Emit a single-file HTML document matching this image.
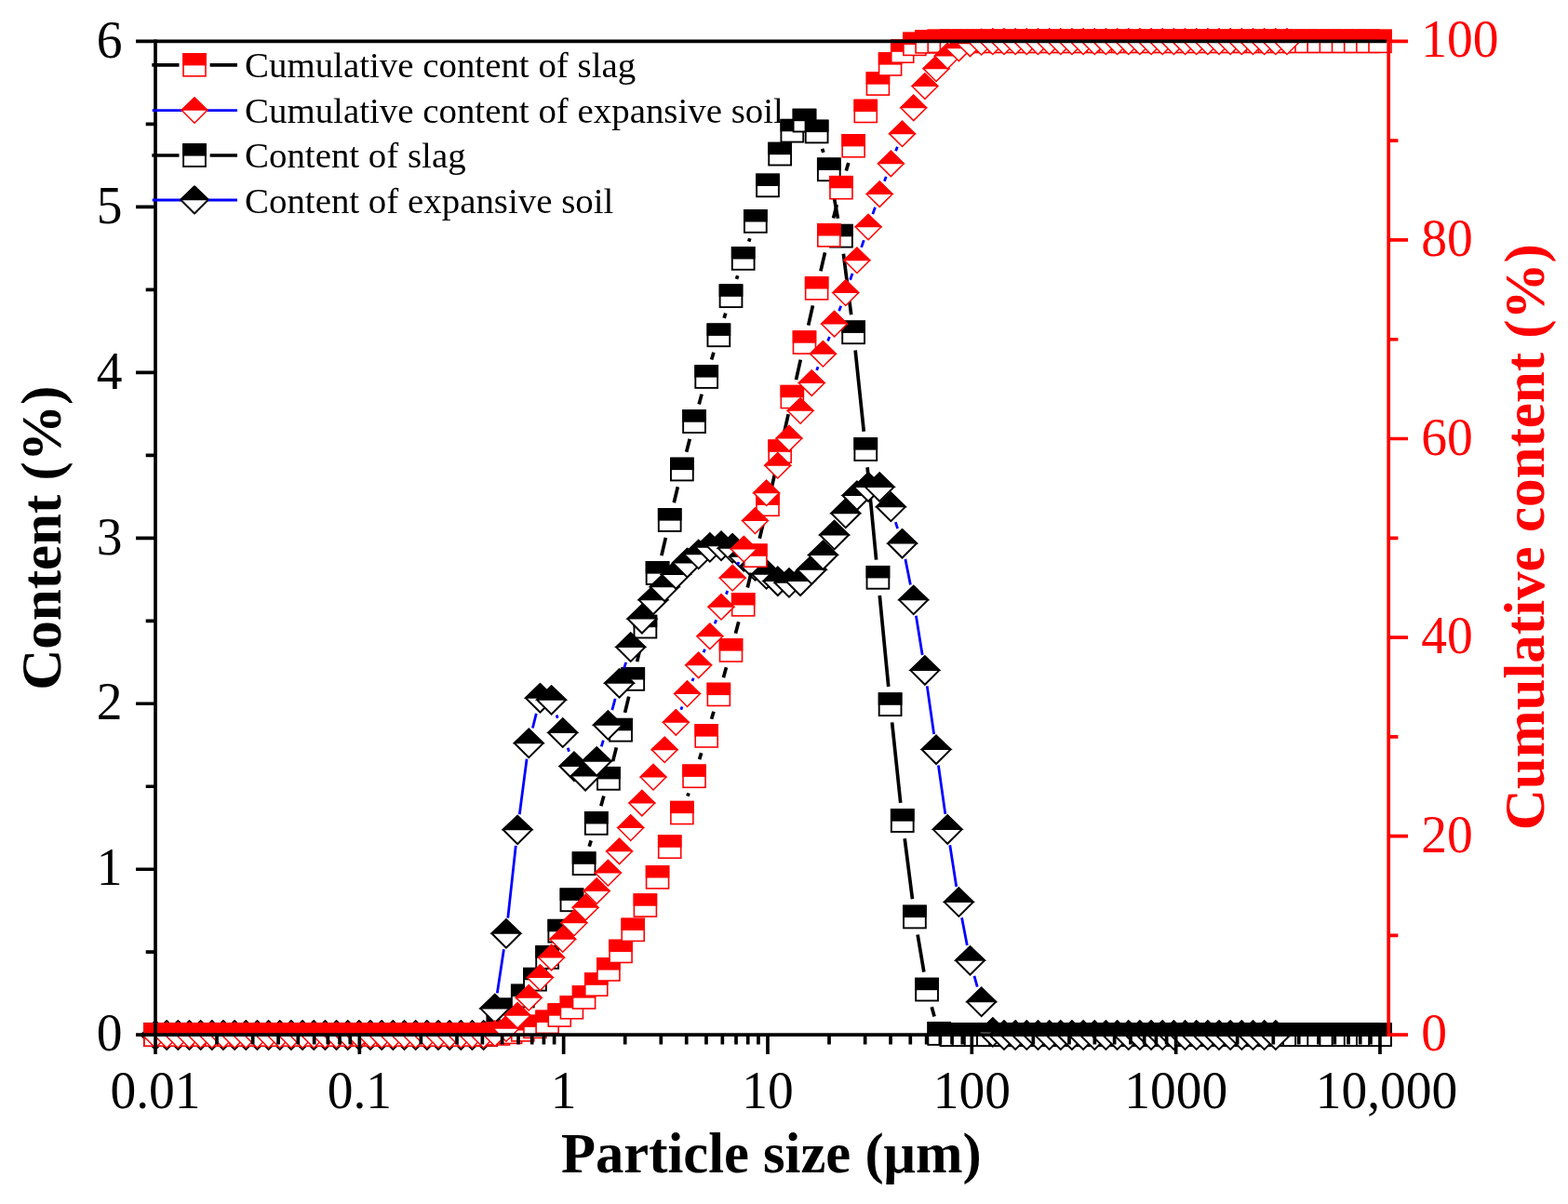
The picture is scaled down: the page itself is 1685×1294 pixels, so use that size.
<!DOCTYPE html>
<html lang="en">
<head>
<meta charset="utf-8">
<title>Particle size distribution</title>
<style>
html,body{margin:0;padding:0;background:#fff;}
body{width:1685px;height:1294px;overflow:hidden;}
svg{display:block;}
</style>
</head>
<body>
<svg width="1685" height="1294" viewBox="0 0 1685 1294" role="img" aria-label="Particle size distribution of slag and expansive soil">
<defs>
<g id="sb"><rect x="-11.9" y="-11.9" width="23.8" height="23.8" fill="#fff" stroke="#000" stroke-width="1.9"/><rect x="-12.85" y="-12.85" width="25.7" height="13.45" fill="#000"/></g>
<g id="sr"><rect x="-12" y="-12" width="24" height="24" fill="#fff" stroke="#f00" stroke-width="1.6"/><rect x="-12.8" y="-12.8" width="25.6" height="13.4" fill="#f00"/></g>
<g id="db" stroke="#000" stroke-width="2.0"><path d="M-15.2 0L0 -15.2L15.2 0L0 15.2Z" fill="#fff"/><path d="M-15.2 -0.7L0 -15.2L15.2 -0.7Z" fill="#000"/></g>
<g id="dr" stroke="#f00" stroke-width="1.5"><path d="M-13.65 0L0 -13.65L13.65 0L0 13.65Z" fill="#fff"/><path d="M-13.65 -0.5L0 -13.65L13.65 -0.5Z" fill="#f00"/></g>
<g id="ldb" stroke="#000" stroke-width="2.0" stroke-linejoin="round"><path d="M-14.5 0L0 -14.5L14.5 0L0 14.5Z" fill="#fff"/><path d="M-14.5 -0.7L0 -14.5L14.5 -0.7Z" fill="#000"/></g>
<g id="ldr" stroke="#f00" stroke-width="1.5"><path d="M-13.65 0L0 -13.65L13.65 0L0 13.65Z" fill="#fff"/><path d="M-13.65 -0.5L0 -13.65L13.65 -0.5Z" fill="#f00"/></g>
</defs>
<rect width="1685" height="1294" fill="#fff"/>
<g id="s1">
<path d="M633.21 909.73L635.15 903.37M645.85 866.28L648.83 855.42M658.65 818.09L662.35 803.41M671.59 765.93L675.73 748.67M684.63 711.11L689.01 692.39M697.7 654.78L702.26 634.82M710.9 597.19L715.38 577.81M724.25 540.24L728.35 523.26M737.67 485.8L741.25 471.8M751.13 434.48L754.11 423.62M764.65 386.49L766.91 378.81M778.12 341.88L779.76 336.62M791.51 299.85L792.69 296.25M804.71 259.57L805.81 256.23M883.56 159.87L884.88 163.93M894.3 201.28L900.46 234.72M906.39 272.85L914.69 338.15M919.13 376.5L928.27 463.8M932.11 502.21L941.61 601.59M945.29 640.01L954.75 737.99M958.62 776.39L967.74 862.91M972.2 901.25L980.48 966.35M986.13 1004.53L992.87 1044.57M1001.24 1082.2L1004.08 1092.4" fill="none" stroke="#000" stroke-width="3.7"/>
<use href="#sb" x="167" y="1112.2"/>
<use href="#sb" x="180.16" y="1112.2"/>
<use href="#sb" x="193.32" y="1112.2"/>
<use href="#sb" x="206.48" y="1112.2"/>
<use href="#sb" x="219.64" y="1112.2"/>
<use href="#sb" x="232.8" y="1112.2"/>
<use href="#sb" x="245.96" y="1112.2"/>
<use href="#sb" x="259.12" y="1112.2"/>
<use href="#sb" x="272.28" y="1112.2"/>
<use href="#sb" x="285.44" y="1112.2"/>
<use href="#sb" x="298.6" y="1112.2"/>
<use href="#sb" x="311.76" y="1112.2"/>
<use href="#sb" x="324.92" y="1112.2"/>
<use href="#sb" x="338.08" y="1112.2"/>
<use href="#sb" x="351.24" y="1112.2"/>
<use href="#sb" x="364.4" y="1112.2"/>
<use href="#sb" x="377.56" y="1112.2"/>
<use href="#sb" x="390.72" y="1112.2"/>
<use href="#sb" x="403.88" y="1112.2"/>
<use href="#sb" x="417.04" y="1112.2"/>
<use href="#sb" x="430.2" y="1112.2"/>
<use href="#sb" x="443.36" y="1112.2"/>
<use href="#sb" x="456.52" y="1112.2"/>
<use href="#sb" x="469.68" y="1112.2"/>
<use href="#sb" x="482.84" y="1112.2"/>
<use href="#sb" x="496" y="1112.2"/>
<use href="#sb" x="509.16" y="1112.2"/>
<use href="#sb" x="522.32" y="1112.2"/>
<use href="#sb" x="535.48" y="1098"/>
<use href="#sb" x="548.64" y="1085.4"/>
<use href="#sb" x="561.8" y="1070.5"/>
<use href="#sb" x="574.96" y="1052.7"/>
<use href="#sb" x="588.12" y="1029"/>
<use href="#sb" x="601.28" y="1000.7"/>
<use href="#sb" x="614.44" y="967.3"/>
<use href="#sb" x="627.6" y="928.2"/>
<use href="#sb" x="640.76" y="884.9"/>
<use href="#sb" x="653.92" y="836.8"/>
<use href="#sb" x="667.08" y="784.7"/>
<use href="#sb" x="680.24" y="729.9"/>
<use href="#sb" x="693.4" y="673.6"/>
<use href="#sb" x="706.56" y="616"/>
<use href="#sb" x="719.72" y="559"/>
<use href="#sb" x="732.88" y="504.5"/>
<use href="#sb" x="746.04" y="453.1"/>
<use href="#sb" x="759.2" y="405"/>
<use href="#sb" x="772.36" y="360.3"/>
<use href="#sb" x="785.52" y="318.2"/>
<use href="#sb" x="798.68" y="277.9"/>
<use href="#sb" x="811.84" y="237.9"/>
<use href="#sb" x="825" y="199.4"/>
<use href="#sb" x="838.16" y="165.6"/>
<use href="#sb" x="851.32" y="140.7"/>
<use href="#sb" x="864.48" y="129.6"/>
<use href="#sb" x="877.64" y="141.5"/>
<use href="#sb" x="890.8" y="182.3"/>
<use href="#sb" x="903.96" y="253.7"/>
<use href="#sb" x="917.12" y="357.3"/>
<use href="#sb" x="930.28" y="483"/>
<use href="#sb" x="943.44" y="620.8"/>
<use href="#sb" x="956.6" y="757.2"/>
<use href="#sb" x="969.76" y="882.1"/>
<use href="#sb" x="982.92" y="985.5"/>
<use href="#sb" x="996.08" y="1063.6"/>
<use href="#sb" x="1009.24" y="1111"/>
<use href="#sb" x="1022.4" y="1112.2"/>
<use href="#sb" x="1035.56" y="1112.2"/>
<use href="#sb" x="1048.72" y="1112.2"/>
<use href="#sb" x="1061.88" y="1112.2"/>
<use href="#sb" x="1075.04" y="1112.2"/>
<use href="#sb" x="1088.2" y="1112.2"/>
<use href="#sb" x="1101.36" y="1112.2"/>
<use href="#sb" x="1114.52" y="1112.2"/>
<use href="#sb" x="1127.68" y="1112.2"/>
<use href="#sb" x="1140.84" y="1112.2"/>
<use href="#sb" x="1154" y="1112.2"/>
<use href="#sb" x="1167.16" y="1112.2"/>
<use href="#sb" x="1180.32" y="1112.2"/>
<use href="#sb" x="1193.48" y="1112.2"/>
<use href="#sb" x="1206.64" y="1112.2"/>
<use href="#sb" x="1219.8" y="1112.2"/>
<use href="#sb" x="1232.96" y="1112.2"/>
<use href="#sb" x="1246.12" y="1112.2"/>
<use href="#sb" x="1259.28" y="1112.2"/>
<use href="#sb" x="1272.44" y="1112.2"/>
<use href="#sb" x="1285.6" y="1112.2"/>
<use href="#sb" x="1298.76" y="1112.2"/>
<use href="#sb" x="1311.92" y="1112.2"/>
<use href="#sb" x="1325.08" y="1112.2"/>
<use href="#sb" x="1338.24" y="1112.2"/>
<use href="#sb" x="1351.4" y="1112.2"/>
<use href="#sb" x="1364.56" y="1112.2"/>
<use href="#sb" x="1377.72" y="1112.2"/>
<use href="#sb" x="1390.88" y="1112.2"/>
<use href="#sb" x="1404.04" y="1112.2"/>
<use href="#sb" x="1417.2" y="1112.2"/>
<use href="#sb" x="1430.36" y="1112.2"/>
<use href="#sb" x="1443.52" y="1112.2"/>
<use href="#sb" x="1456.68" y="1112.2"/>
<use href="#sb" x="1469.84" y="1112.2"/>
<use href="#sb" x="1483" y="1112.2"/>
</g>
<g id="s2">
<path d="M534.32 1067.39L541.44 1020.21M545.79 986.7L554.29 908.8M558.31 875.24L566.09 815.66M572.39 782.51L576.33 766.79M598.12 768.47L599.24 771.73M610.15 803.72L611.53 807.78M646.27 802.37L648.37 795.63M657.81 763.19L661.15 750.81M670.61 718.37L672.67 711.83M962.38 561.05L964.58 568.15M972.88 600.87L978.4 628.43M984.4 661.69L991.2 703.91M996.27 737.33L1003.65 789.07M1008.41 822.53L1015.83 874.87M1020.8 908.3L1027.76 953M1033.57 986.29L1039.31 1015.91M1046.98 1048.8L1050.22 1060.6" fill="none" stroke="#0000ff" stroke-width="2.8"/>
<use href="#db" x="167" y="1112.7"/>
<use href="#db" x="179.16" y="1112.7"/>
<use href="#db" x="191.32" y="1112.7"/>
<use href="#db" x="203.48" y="1112.7"/>
<use href="#db" x="215.64" y="1112.7"/>
<use href="#db" x="227.8" y="1112.7"/>
<use href="#db" x="239.96" y="1112.7"/>
<use href="#db" x="252.12" y="1112.7"/>
<use href="#db" x="264.28" y="1112.7"/>
<use href="#db" x="276.44" y="1112.7"/>
<use href="#db" x="288.6" y="1112.7"/>
<use href="#db" x="300.76" y="1112.7"/>
<use href="#db" x="312.92" y="1112.7"/>
<use href="#db" x="325.08" y="1112.7"/>
<use href="#db" x="337.24" y="1112.7"/>
<use href="#db" x="349.4" y="1112.7"/>
<use href="#db" x="361.56" y="1112.7"/>
<use href="#db" x="373.72" y="1112.7"/>
<use href="#db" x="385.88" y="1112.7"/>
<use href="#db" x="398.04" y="1112.7"/>
<use href="#db" x="410.2" y="1112.7"/>
<use href="#db" x="422.36" y="1112.7"/>
<use href="#db" x="434.52" y="1112.7"/>
<use href="#db" x="446.68" y="1112.7"/>
<use href="#db" x="458.84" y="1112.7"/>
<use href="#db" x="471" y="1112.7"/>
<use href="#db" x="483.16" y="1112.7"/>
<use href="#db" x="495.32" y="1112.7"/>
<use href="#db" x="507.48" y="1112.7"/>
<use href="#db" x="519.64" y="1112.7"/>
<use href="#db" x="531.8" y="1084.1"/>
<use href="#db" x="543.96" y="1003.5"/>
<use href="#db" x="556.12" y="892"/>
<use href="#db" x="568.28" y="798.9"/>
<use href="#db" x="580.44" y="750.4"/>
<use href="#db" x="592.6" y="752.5"/>
<use href="#db" x="604.76" y="787.7"/>
<use href="#db" x="616.92" y="823.8"/>
<use href="#db" x="629.08" y="834.3"/>
<use href="#db" x="641.24" y="818.5"/>
<use href="#db" x="653.4" y="779.5"/>
<use href="#db" x="665.56" y="734.5"/>
<use href="#db" x="677.72" y="695.7"/>
<use href="#db" x="689.88" y="665.3"/>
<use href="#db" x="702.04" y="645"/>
<use href="#db" x="714.2" y="630.9"/>
<use href="#db" x="726.36" y="617.6"/>
<use href="#db" x="738.52" y="605.2"/>
<use href="#db" x="750.68" y="596"/>
<use href="#db" x="762.84" y="588.5"/>
<use href="#db" x="775" y="586.9"/>
<use href="#db" x="787.16" y="589.4"/>
<use href="#db" x="799.32" y="598.5"/>
<use href="#db" x="811.48" y="608.5"/>
<use href="#db" x="823.64" y="617.4"/>
<use href="#db" x="835.8" y="624.8"/>
<use href="#db" x="847.96" y="626.5"/>
<use href="#db" x="860.12" y="624.8"/>
<use href="#db" x="872.28" y="612.5"/>
<use href="#db" x="884.44" y="596.8"/>
<use href="#db" x="896.6" y="575.2"/>
<use href="#db" x="908.76" y="551.9"/>
<use href="#db" x="920.92" y="532.8"/>
<use href="#db" x="933.08" y="523.6"/>
<use href="#db" x="945.24" y="523.6"/>
<use href="#db" x="957.4" y="544.9"/>
<use href="#db" x="969.56" y="584.3"/>
<use href="#db" x="981.72" y="645"/>
<use href="#db" x="993.88" y="720.6"/>
<use href="#db" x="1006.04" y="805.8"/>
<use href="#db" x="1018.2" y="891.6"/>
<use href="#db" x="1030.36" y="969.7"/>
<use href="#db" x="1042.52" y="1032.5"/>
<use href="#db" x="1054.68" y="1076.9"/>
<use href="#db" x="1066.84" y="1109.5"/>
<use href="#db" x="1079" y="1112.7"/>
<use href="#db" x="1091.16" y="1112.7"/>
<use href="#db" x="1103.32" y="1112.7"/>
<use href="#db" x="1115.48" y="1112.7"/>
<use href="#db" x="1127.64" y="1112.7"/>
<use href="#db" x="1139.8" y="1112.7"/>
<use href="#db" x="1151.96" y="1112.7"/>
<use href="#db" x="1164.12" y="1112.7"/>
<use href="#db" x="1176.28" y="1112.7"/>
<use href="#db" x="1188.44" y="1112.7"/>
<use href="#db" x="1200.6" y="1112.7"/>
<use href="#db" x="1212.76" y="1112.7"/>
<use href="#db" x="1224.92" y="1112.7"/>
<use href="#db" x="1237.08" y="1112.7"/>
<use href="#db" x="1249.24" y="1112.7"/>
<use href="#db" x="1261.4" y="1112.7"/>
<use href="#db" x="1273.56" y="1112.7"/>
<use href="#db" x="1285.72" y="1112.7"/>
<use href="#db" x="1297.88" y="1112.7"/>
<use href="#db" x="1310.04" y="1112.7"/>
<use href="#db" x="1322.2" y="1112.7"/>
<use href="#db" x="1334.36" y="1112.7"/>
<use href="#db" x="1346.52" y="1112.7"/>
<use href="#db" x="1358.68" y="1112.7"/>
<use href="#db" x="1370.84" y="1112.7"/>
</g>
<g id="s3">
<path d="M738.91 855.58L740.01 852.32M751.57 816.12L753.67 809.18M764.59 772.78L766.97 764.72M777.43 728.19L780.45 717.31M790.44 680.65L793.76 668.25M803.28 631.47L807.24 615.63M816.27 578.72L820.57 560.78M829.27 523.79L833.89 503.71M842.32 466.66L847.16 445.14M855.49 408.06L860.31 386.64M868.67 349.57L873.45 328.43M881.91 291.39L886.53 271.41M895.53 234.5L899.23 220.1M909.3 183.47L911.78 175.03" fill="none" stroke="#000" stroke-width="3.7"/>
<use href="#sr" x="167" y="1112.2"/>
<use href="#sr" x="180.16" y="1112.2"/>
<use href="#sr" x="193.32" y="1112.2"/>
<use href="#sr" x="206.48" y="1112.2"/>
<use href="#sr" x="219.64" y="1112.2"/>
<use href="#sr" x="232.8" y="1112.2"/>
<use href="#sr" x="245.96" y="1112.2"/>
<use href="#sr" x="259.12" y="1112.2"/>
<use href="#sr" x="272.28" y="1112.2"/>
<use href="#sr" x="285.44" y="1112.2"/>
<use href="#sr" x="298.6" y="1112.2"/>
<use href="#sr" x="311.76" y="1112.2"/>
<use href="#sr" x="324.92" y="1112.2"/>
<use href="#sr" x="338.08" y="1112.2"/>
<use href="#sr" x="351.24" y="1112.2"/>
<use href="#sr" x="364.4" y="1112.2"/>
<use href="#sr" x="377.56" y="1112.2"/>
<use href="#sr" x="390.72" y="1112.2"/>
<use href="#sr" x="403.88" y="1112.2"/>
<use href="#sr" x="417.04" y="1112.2"/>
<use href="#sr" x="430.2" y="1112.2"/>
<use href="#sr" x="443.36" y="1112.2"/>
<use href="#sr" x="456.52" y="1112.2"/>
<use href="#sr" x="469.68" y="1112.2"/>
<use href="#sr" x="482.84" y="1112.2"/>
<use href="#sr" x="496" y="1112.2"/>
<use href="#sr" x="509.16" y="1112.2"/>
<use href="#sr" x="522.32" y="1111.9"/>
<use href="#sr" x="535.48" y="1111"/>
<use href="#sr" x="548.64" y="1109.4"/>
<use href="#sr" x="561.8" y="1106.9"/>
<use href="#sr" x="574.96" y="1103.4"/>
<use href="#sr" x="588.12" y="1098.4"/>
<use href="#sr" x="601.28" y="1091.1"/>
<use href="#sr" x="614.44" y="1082.8"/>
<use href="#sr" x="627.6" y="1072"/>
<use href="#sr" x="640.76" y="1058.2"/>
<use href="#sr" x="653.92" y="1042"/>
<use href="#sr" x="667.08" y="1022.5"/>
<use href="#sr" x="680.24" y="999.4"/>
<use href="#sr" x="693.4" y="973.1"/>
<use href="#sr" x="706.56" y="942.9"/>
<use href="#sr" x="719.72" y="910.2"/>
<use href="#sr" x="732.88" y="873.6"/>
<use href="#sr" x="746.04" y="834.3"/>
<use href="#sr" x="759.2" y="791"/>
<use href="#sr" x="772.36" y="746.5"/>
<use href="#sr" x="785.52" y="699"/>
<use href="#sr" x="798.68" y="649.9"/>
<use href="#sr" x="811.84" y="597.2"/>
<use href="#sr" x="825" y="542.3"/>
<use href="#sr" x="838.16" y="485.2"/>
<use href="#sr" x="851.32" y="426.6"/>
<use href="#sr" x="864.48" y="368.1"/>
<use href="#sr" x="877.64" y="309.9"/>
<use href="#sr" x="890.8" y="252.9"/>
<use href="#sr" x="903.96" y="201.7"/>
<use href="#sr" x="917.12" y="156.8"/>
<use href="#sr" x="930.28" y="119.5"/>
<use href="#sr" x="943.44" y="90.1"/>
<use href="#sr" x="956.6" y="69"/>
<use href="#sr" x="969.76" y="55.2"/>
<use href="#sr" x="982.92" y="47.4"/>
<use href="#sr" x="996.08" y="44.9"/>
<use href="#sr" x="1009.24" y="44.4"/>
<use href="#sr" x="1022.4" y="44.4"/>
<use href="#sr" x="1035.56" y="44.4"/>
<use href="#sr" x="1048.72" y="44.4"/>
<use href="#sr" x="1061.88" y="44.4"/>
<use href="#sr" x="1075.04" y="44.4"/>
<use href="#sr" x="1088.2" y="44.4"/>
<use href="#sr" x="1101.36" y="44.4"/>
<use href="#sr" x="1114.52" y="44.4"/>
<use href="#sr" x="1127.68" y="44.4"/>
<use href="#sr" x="1140.84" y="44.4"/>
<use href="#sr" x="1154" y="44.4"/>
<use href="#sr" x="1167.16" y="44.4"/>
<use href="#sr" x="1180.32" y="44.4"/>
<use href="#sr" x="1193.48" y="44.4"/>
<use href="#sr" x="1206.64" y="44.4"/>
<use href="#sr" x="1219.8" y="44.4"/>
<use href="#sr" x="1232.96" y="44.4"/>
<use href="#sr" x="1246.12" y="44.4"/>
<use href="#sr" x="1259.28" y="44.4"/>
<use href="#sr" x="1272.44" y="44.4"/>
<use href="#sr" x="1285.6" y="44.4"/>
<use href="#sr" x="1298.76" y="44.4"/>
<use href="#sr" x="1311.92" y="44.4"/>
<use href="#sr" x="1325.08" y="44.4"/>
<use href="#sr" x="1338.24" y="44.4"/>
<use href="#sr" x="1351.4" y="44.4"/>
<use href="#sr" x="1364.56" y="44.4"/>
<use href="#sr" x="1377.72" y="44.4"/>
<use href="#sr" x="1390.88" y="44.4"/>
<use href="#sr" x="1404.04" y="44.4"/>
<use href="#sr" x="1417.2" y="44.4"/>
<use href="#sr" x="1430.36" y="44.4"/>
<use href="#sr" x="1443.52" y="44.4"/>
<use href="#sr" x="1456.68" y="44.4"/>
<use href="#sr" x="1469.84" y="44.4"/>
<use href="#sr" x="1483" y="44.4"/>
</g>
<g id="s4">
<path d="M731.81 762.74L733.07 759.56M743.95 732.03L745.25 728.77M756.08 701.22L757.44 697.78M768.16 670.19L769.68 666.21M780.39 638.62L781.77 635.08M792.56 607.52L793.92 604.08M877.64 397.9L879.08 394.2M889.67 366.55L891.37 362.05M901.66 334.29L903.7 328.71M913.63 300.82L916.05 293.88M925.68 265.89L928.32 258.11M937.89 230.1L940.43 222.7M950.4 194.83L952.24 189.87M962.64 162.16L964.32 157.74" fill="none" stroke="#0000ff" stroke-width="2.8"/>
<use href="#dr" x="167" y="1112.6"/>
<use href="#dr" x="179.16" y="1112.6"/>
<use href="#dr" x="191.32" y="1112.6"/>
<use href="#dr" x="203.48" y="1112.6"/>
<use href="#dr" x="215.64" y="1112.6"/>
<use href="#dr" x="227.8" y="1112.6"/>
<use href="#dr" x="239.96" y="1112.6"/>
<use href="#dr" x="252.12" y="1112.6"/>
<use href="#dr" x="264.28" y="1112.6"/>
<use href="#dr" x="276.44" y="1112.6"/>
<use href="#dr" x="288.6" y="1112.6"/>
<use href="#dr" x="300.76" y="1112.6"/>
<use href="#dr" x="312.92" y="1112.6"/>
<use href="#dr" x="325.08" y="1112.6"/>
<use href="#dr" x="337.24" y="1112.6"/>
<use href="#dr" x="349.4" y="1112.6"/>
<use href="#dr" x="361.56" y="1112.6"/>
<use href="#dr" x="373.72" y="1112.6"/>
<use href="#dr" x="385.88" y="1112.6"/>
<use href="#dr" x="398.04" y="1112.6"/>
<use href="#dr" x="410.2" y="1112.6"/>
<use href="#dr" x="422.36" y="1112.6"/>
<use href="#dr" x="434.52" y="1112.6"/>
<use href="#dr" x="446.68" y="1112.6"/>
<use href="#dr" x="458.84" y="1112.6"/>
<use href="#dr" x="471" y="1112.6"/>
<use href="#dr" x="483.16" y="1112.6"/>
<use href="#dr" x="495.32" y="1112.6"/>
<use href="#dr" x="507.48" y="1112.6"/>
<use href="#dr" x="519.64" y="1112.6"/>
<use href="#dr" x="531.8" y="1110.9"/>
<use href="#dr" x="543.96" y="1105.6"/>
<use href="#dr" x="556.12" y="1091.5"/>
<use href="#dr" x="568.28" y="1072.4"/>
<use href="#dr" x="580.44" y="1050.8"/>
<use href="#dr" x="592.6" y="1029.2"/>
<use href="#dr" x="604.76" y="1009.6"/>
<use href="#dr" x="616.92" y="992.1"/>
<use href="#dr" x="629.08" y="975.5"/>
<use href="#dr" x="641.24" y="957.7"/>
<use href="#dr" x="653.4" y="938.3"/>
<use href="#dr" x="665.56" y="915"/>
<use href="#dr" x="677.72" y="889.8"/>
<use href="#dr" x="689.88" y="863.2"/>
<use href="#dr" x="702.04" y="835.3"/>
<use href="#dr" x="714.2" y="805.9"/>
<use href="#dr" x="726.36" y="776.5"/>
<use href="#dr" x="738.52" y="745.8"/>
<use href="#dr" x="750.68" y="715"/>
<use href="#dr" x="762.84" y="684"/>
<use href="#dr" x="775" y="652.4"/>
<use href="#dr" x="787.16" y="621.3"/>
<use href="#dr" x="799.32" y="590.3"/>
<use href="#dr" x="811.48" y="559.8"/>
<use href="#dr" x="823.64" y="529.9"/>
<use href="#dr" x="835.8" y="500.4"/>
<use href="#dr" x="847.96" y="471.2"/>
<use href="#dr" x="860.12" y="441.6"/>
<use href="#dr" x="872.28" y="411.7"/>
<use href="#dr" x="884.44" y="380.4"/>
<use href="#dr" x="896.6" y="348.2"/>
<use href="#dr" x="908.76" y="314.8"/>
<use href="#dr" x="920.92" y="279.9"/>
<use href="#dr" x="933.08" y="244.1"/>
<use href="#dr" x="945.24" y="208.7"/>
<use href="#dr" x="957.4" y="176"/>
<use href="#dr" x="969.56" y="143.9"/>
<use href="#dr" x="981.72" y="116"/>
<use href="#dr" x="993.88" y="92.7"/>
<use href="#dr" x="1006.04" y="73.9"/>
<use href="#dr" x="1018.2" y="60.3"/>
<use href="#dr" x="1030.36" y="52"/>
<use href="#dr" x="1042.52" y="47"/>
<use href="#dr" x="1054.68" y="45.3"/>
<use href="#dr" x="1066.84" y="44.8"/>
<use href="#dr" x="1079" y="44.8"/>
<use href="#dr" x="1091.16" y="44.8"/>
<use href="#dr" x="1103.32" y="44.8"/>
<use href="#dr" x="1115.48" y="44.8"/>
<use href="#dr" x="1127.64" y="44.8"/>
<use href="#dr" x="1139.8" y="44.8"/>
<use href="#dr" x="1151.96" y="44.8"/>
<use href="#dr" x="1164.12" y="44.8"/>
<use href="#dr" x="1176.28" y="44.8"/>
<use href="#dr" x="1188.44" y="44.8"/>
<use href="#dr" x="1200.6" y="44.8"/>
<use href="#dr" x="1212.76" y="44.8"/>
<use href="#dr" x="1224.92" y="44.8"/>
<use href="#dr" x="1237.08" y="44.8"/>
<use href="#dr" x="1249.24" y="44.8"/>
<use href="#dr" x="1261.4" y="44.8"/>
<use href="#dr" x="1273.56" y="44.8"/>
<use href="#dr" x="1285.72" y="44.8"/>
<use href="#dr" x="1297.88" y="44.8"/>
<use href="#dr" x="1310.04" y="44.8"/>
<use href="#dr" x="1322.2" y="44.8"/>
<use href="#dr" x="1334.36" y="44.8"/>
<use href="#dr" x="1346.52" y="44.8"/>
<use href="#dr" x="1358.68" y="44.8"/>
<use href="#dr" x="1370.84" y="44.8"/>
<use href="#dr" x="1383" y="44.8"/>
</g>
<g stroke="#000" stroke-width="3.7" fill="none">
<path d="M167 42.55V1133"/>
<path d="M146 44.4H1490.2"/>
<path d="M146 1112.2H1492.2"/>
<path d="M156.7 1023.22H167M146 934.23H167M156.7 845.25H167M146 756.27H167M156.7 667.28H167M146 578.3H167M156.7 489.32H167M146 400.33H167M156.7 311.35H167M146 222.37H167M156.7 133.38H167M233.02 1112.2V1122.6M271.65 1112.2V1122.6M299.05 1112.2V1122.6M320.31 1112.2V1122.6M337.67 1112.2V1122.6M352.36 1112.2V1122.6M365.07 1112.2V1122.6M376.29 1112.2V1122.6M386.33 1112.2V1133M452.35 1112.2V1122.6M490.98 1112.2V1122.6M518.38 1112.2V1122.6M539.64 1112.2V1122.6M557 1112.2V1122.6M571.69 1112.2V1122.6M584.4 1112.2V1122.6M595.62 1112.2V1122.6M605.66 1112.2V1133M671.68 1112.2V1122.6M710.31 1112.2V1122.6M737.71 1112.2V1122.6M758.97 1112.2V1122.6M776.33 1112.2V1122.6M791.02 1112.2V1122.6M803.73 1112.2V1122.6M814.95 1112.2V1122.6M824.99 1112.2V1133M891.01 1112.2V1122.6M929.64 1112.2V1122.6M957.04 1112.2V1122.6M978.3 1112.2V1122.6M995.66 1112.2V1122.6M1010.35 1112.2V1122.6M1023.06 1112.2V1122.6M1034.28 1112.2V1122.6M1044.32 1112.2V1133M1110.34 1112.2V1122.6M1148.97 1112.2V1122.6M1176.37 1112.2V1122.6M1197.63 1112.2V1122.6M1214.99 1112.2V1122.6M1229.68 1112.2V1122.6M1242.39 1112.2V1122.6M1253.61 1112.2V1122.6M1263.65 1112.2V1133M1329.67 1112.2V1122.6M1368.3 1112.2V1122.6M1395.7 1112.2V1122.6M1416.96 1112.2V1122.6M1434.32 1112.2V1122.6M1449.01 1112.2V1122.6M1461.72 1112.2V1122.6M1472.94 1112.2V1122.6M1482.98 1112.2V1133"/>
</g>
<g stroke="#f00" stroke-width="3.7" fill="none">
<path d="M1492.2 42.55V1114.05"/>
<path d="M1492.2 1112.2H1513M1492.2 1005.42H1502.4M1492.2 898.64H1513M1492.2 791.86H1502.4M1492.2 685.08H1513M1492.2 578.3H1502.4M1492.2 471.52H1513M1492.2 364.74H1502.4M1492.2 257.96H1513M1492.2 151.18H1502.4M1492.2 44.4H1513"/>
</g>
<g id="legend">
<path d="M163.3 69.8H192.5M225.6 69.8H255" stroke="#000" stroke-width="3.7" fill="none"/>
<use href="#sr" x="209" y="69.8"/>
<path d="M163.7 118.6H255" stroke="#0000ff" stroke-width="2.8" fill="none"/>
<use href="#ldr" x="209" y="118.6"/>
<path d="M163.3 167H192.5M225.6 167H255" stroke="#000" stroke-width="3.7" fill="none"/>
<use href="#sb" x="209" y="167"/>
<path d="M163.7 215H255" stroke="#0000ff" stroke-width="2.8" fill="none"/>
<use href="#ldb" x="209" y="215"/>
</g>
<g font-family="'Liberation Serif', serif" font-size="55.5" fill="#000">
<text transform="translate(131.5 1129.4) scale(1.0 1.015)" text-anchor="end">0</text>
<text transform="translate(131.5 951.43) scale(1.0 1.015)" text-anchor="end">1</text>
<text transform="translate(131.5 773.47) scale(1.0 1.015)" text-anchor="end">2</text>
<text transform="translate(131.5 595.5) scale(1.0 1.015)" text-anchor="end">3</text>
<text transform="translate(131.5 417.53) scale(1.0 1.015)" text-anchor="end">4</text>
<text transform="translate(131.5 239.57) scale(1.0 1.015)" text-anchor="end">5</text>
<text transform="translate(131.5 61.6) scale(1.0 1.015)" text-anchor="end">6</text>
<text transform="translate(167 1190.6) scale(1.0 1.015)" text-anchor="middle">0.01</text>
<text transform="translate(386.33 1190.6) scale(1.0 1.015)" text-anchor="middle">0.1</text>
<text transform="translate(605.66 1190.6) scale(1.0 1.015)" text-anchor="middle">1</text>
<text transform="translate(824.99 1190.6) scale(1.0 1.015)" text-anchor="middle">10</text>
<text transform="translate(1044.32 1190.6) scale(1.0 1.015)" text-anchor="middle">100</text>
<text transform="translate(1263.65 1190.6) scale(1.0 1.015)" text-anchor="middle">1000</text>
<text transform="translate(1490 1190.6) scale(1.0 1.015)" text-anchor="middle">10,000</text>
</g>
<g font-family="'Liberation Serif', serif" font-size="55.5" fill="#f00">
<text transform="translate(1527.3 1129.2) scale(1.0 1.015)">0</text>
<text transform="translate(1527.3 915.64) scale(1.0 1.015)">20</text>
<text transform="translate(1527.3 702.08) scale(1.0 1.015)">40</text>
<text transform="translate(1527.3 488.52) scale(1.0 1.015)">60</text>
<text transform="translate(1527.3 274.96) scale(1.0 1.015)">80</text>
<text transform="translate(1527.3 61.4) scale(1.0 1.015)">100</text>
</g>
<g font-family="'Liberation Serif', serif" font-size="38.9" fill="#000">
<text transform="translate(263 83)">Cumulative content of slag</text>
<text transform="translate(263 131.6)">Cumulative content of expansive soil</text>
<text transform="translate(263 180.1)">Content of slag</text>
<text transform="translate(263 228.6)">Content of expansive soil</text>
</g>
<g font-family="'Liberation Serif', serif" font-size="61" font-weight="bold">
<g fill="#000"><text transform="translate(828.8 1260) scale(0.994 1.0)" text-anchor="middle">Particle size (μm)</text>
</g>
<g fill="#000"><text transform="translate(65.3 578.3) rotate(-90)" text-anchor="middle">Content (%)</text>
</g>
<g fill="#f00"><text transform="translate(1658.7 577.2) rotate(-90)" text-anchor="middle">Cumulative content (%)</text>
</g>
</g>
</svg>
</body>
</html>
